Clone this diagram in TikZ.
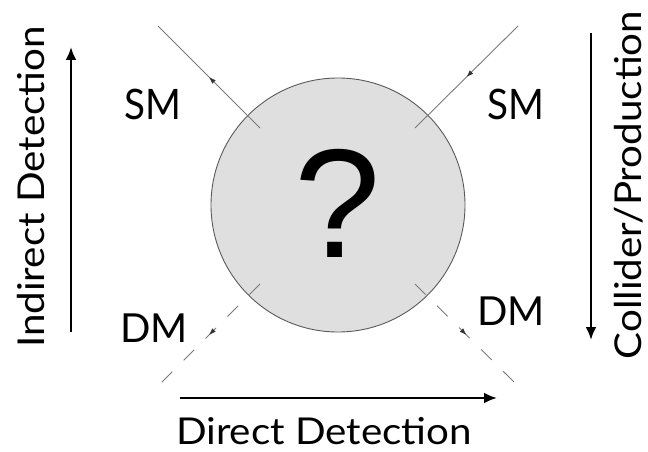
\documentclass[tikz,border=0pt]{standalone}
\usepackage{fontspec}
\setmainfont{Lato}
\newfontfamily\widefont{Lato}[FakeStretch=1.09]
\newfontfamily\narrowfont{Lato}[FakeStretch=0.92]
\newfontfamily\qfont{Liberation Sans}
\usetikzlibrary{arrows.meta,decorations.markings}

\definecolor{blobfill}{HTML}{DFDFDF}
\definecolor{blobedge}{HTML}{5A5A5A}
\definecolor{leggray}{HTML}{7A7A7A}

\tikzset{
  blob/.style={circle, draw=blobedge, line width=0.9pt, fill=blobfill,
               minimum size=254pt, inner sep=0pt},
  leg/.style={draw=leggray, line width=0.9pt},
  dashleg/.style={leg, dash pattern=on 15pt off 16pt},
  midtip/.style={postaction={decorate, decoration={markings,
      mark=at position 0.5 with {\arrow[black!80]{Latex[length=7pt,width=5pt]}}}}},
  bigarrow/.style={line width=2.6pt, -{Latex[length=13pt,width=11pt]}},
  smlabel/.style={font=\narrowfont\fontsize{42}{42}\selectfont, inner sep=0pt, anchor=base},
  dmlabel/.style={font=\fontsize{40}{40}\selectfont, inner sep=0pt, anchor=base},
  sidelabel/.style={font=\widefont\fontsize{37}{37}\selectfont, inner sep=0pt, anchor=base},
}

\begin{document}
\begin{tikzpicture}[x=1pt, y=-1pt]
\useasboundingbox (0,0) rectangle (648,452);

% central interaction blob
\node[blob] (blob) at (338,205) {};
\node[font=\qfont\fontsize{155}{155}\selectfont, inner sep=0pt, anchor=base] (q) at (338,257) {?};

% external legs
\coordinate (tlin) at (260,128);  \coordinate (tlout) at (158,26);
\coordinate (trin) at (415,128);  \coordinate (trout) at (518,26);
\coordinate (blin) at (260,284);  \coordinate (blout) at (158,386);
\coordinate (brin) at (415,284);  \coordinate (brout) at (518,386);

\draw[leg, midtip] (tlin) -- (tlout);
\draw[leg, midtip] (trout) -- (trin);
\draw[dashleg, midtip] (blin) -- (blout);
\draw[dashleg, midtip] (brin) -- (brout);

% particle labels
\node[smlabel] (smleft)  at (153,119) {SM};
\node[smlabel] (smright) at (516,119) {SM};
\node[dmlabel] (dmleft)  at (154,342) {DM};
\node[dmlabel] (dmright) at (511,325) {DM};

% detection directions
\coordinate (indA) at (71,332);  \coordinate (indB) at (71,47);
\coordinate (colA) at (591,33);  \coordinate (colB) at (591,340);
\coordinate (dirA) at (180,398); \coordinate (dirB) at (497,398);
\draw[bigarrow] (indA) -- (indB);
\draw[bigarrow] (colA) -- (colB);
\draw[bigarrow] (dirA) -- (dirB);

\node[sidelabel, rotate=90] (indirect) at (44,187) {Indirect Detection};
\node[sidelabel, rotate=90] (collider) at (641,185) {Collider/Production};
\node[sidelabel] (direct) at (324,444) {Direct Detection};
\end{tikzpicture}
\end{document}
